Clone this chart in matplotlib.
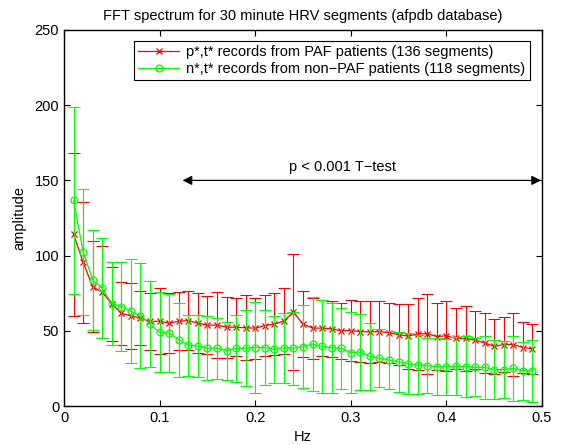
import matplotlib.pyplot as plt

plt.rcParams['font.family'] = ['Liberation Sans', 'DejaVu Sans']

# frequencies 0.01 .. 0.49 Hz
hz = [round(0.01 * k, 2) for k in range(1, 50)]

# PAF patients: mean amplitude and upper end of error bar
paf_mean = [114.2, 95.5, 79.3, 75.6, 67.9, 61.7, 59.9, 58.4, 56.2, 56.4,
            55.1, 56.4, 56.8, 55.1, 53.8, 53.8, 52.4, 52.4, 52.0, 51.8,
            53.5, 54.4, 56.6, 62.4, 54.4, 51.8, 51.8, 51.3, 50.0, 50.2,
            49.5, 49.3, 49.5, 48.7, 47.5, 46.4, 48.0, 48.0, 46.2, 46.7,
            44.9, 44.9, 43.8, 42.0, 39.6, 40.9, 40.9, 38.9, 38.1]
paf_top = [168.3, 135.6, 109.4, 106.3, 92.6, 82.7, 82.0, 76.5, 75.4, 78.5,
           75.0, 75.6, 76.3, 75.0, 73.2, 75.6, 72.7, 71.7, 73.6, 72.1,
           73.6, 75.0, 78.3, 101.0, 76.5, 72.1, 70.5, 69.9, 68.7, 70.7,
           69.9, 69.7, 69.7, 68.5, 67.7, 67.9, 72.1, 74.7, 68.3, 70.1,
           65.0, 66.8, 63.0, 61.9, 58.1, 59.3, 62.1, 55.8, 54.8]

# non-PAF patients
npaf_mean = [136.8, 102.5, 83.8, 78.3, 68.1, 66.1, 63.0, 59.9, 54.4, 49.1,
             48.5, 44.0, 40.5, 39.9, 38.5, 38.5, 36.8, 38.3, 38.5, 38.9,
             38.9, 37.6, 38.7, 38.5, 39.4, 41.2, 39.6, 38.7, 38.3, 35.4,
             35.9, 33.0, 31.9, 30.6, 29.5, 28.1, 27.3, 26.8, 26.2, 26.0,
             26.4, 26.2, 25.7, 25.7, 24.2, 24.2, 25.0, 23.4, 23.4]
npaf_top = [199.0, 144.2, 116.9, 111.4, 95.9, 95.5, 97.7, 94.8, 83.1, 75.6,
            74.7, 68.5, 60.8, 60.6, 59.9, 58.8, 56.0, 60.4, 63.7, 69.2,
            64.1, 59.7, 62.1, 62.8, 67.0, 72.3, 70.5, 68.5, 65.0, 62.4,
            61.0, 55.1, 51.1, 50.0, 49.5, 48.5, 46.9, 45.2, 45.2, 44.5,
            45.6, 46.5, 44.9, 46.5, 44.0, 43.2, 46.5, 42.5, 44.0]

paf_err = [t - m for t, m in zip(paf_top, paf_mean)]
npaf_err = [t - m for t, m in zip(npaf_top, npaf_mean)]

fs = 10.5
fig = plt.figure(figsize=(5.64, 4.45), dpi=100)
ax = fig.add_axes([0.1135, 0.0876, 0.8475, 0.845])

red = '#ff0000'
green = '#00ff00'

ax.errorbar(hz, paf_mean, yerr=paf_err, fmt='none', ecolor=red,
            elinewidth=0.8, capsize=4, capthick=0.8)
ax.plot(hz, paf_mean, '-x', color=red, lw=0.9, ms=5, mew=0.9,
        label='p*,t* records from PAF patients (136 segments)')
ax.errorbar(hz, npaf_mean, yerr=npaf_err, fmt='none', ecolor=green,
            elinewidth=0.8, capsize=4, capthick=0.8)
ax.plot(hz, npaf_mean, '-o', color=green, lw=0.9, ms=5, mew=0.9,
        mfc='none', label='n*,t* records from non\u2212PAF patients (118 segments)')

# significance arrow
ax.annotate('', xy=(0.124, 150), xytext=(0.499, 150),
            arrowprops=dict(arrowstyle='<|-|>', color='black', lw=0.9,
                            mutation_scale=14, shrinkA=0, shrinkB=0))
ax.text(0.235, 159, 'p < 0.001 T\u2212test', fontsize=fs, va='center', ha='left')

ax.set_xlim(0, 0.5)
ax.set_ylim(0, 250)
ax.set_xticks([0, 0.1, 0.2, 0.3, 0.4, 0.5])
ax.set_xticklabels(['0', '0.1', '0.2', '0.3', '0.4', '0.5'])
ax.set_yticks([0, 50, 100, 150, 200, 250])
ax.tick_params(direction='in', top=True, right=True, labelsize=fs, length=4)
for s in ax.spines.values():
    s.set_linewidth(1.0)

ax.set_xlabel('Hz', fontsize=fs, labelpad=4)
ax.set_ylabel('amplitude', fontsize=fs, labelpad=6)
ax.set_title('FFT spectrum for 30 minute HRV segments (afpdb database)',
             fontsize=fs, pad=7)

leg = ax.legend(loc='upper right', fontsize=fs, fancybox=False, framealpha=1,
                edgecolor='black', handlelength=2.8, borderpad=0.3,
                labelspacing=0.15, handletextpad=0.5,
                bbox_to_anchor=(0.99, 0.99))
leg.get_frame().set_linewidth(0.8)

fig.savefig('out.png', dpi=100)
